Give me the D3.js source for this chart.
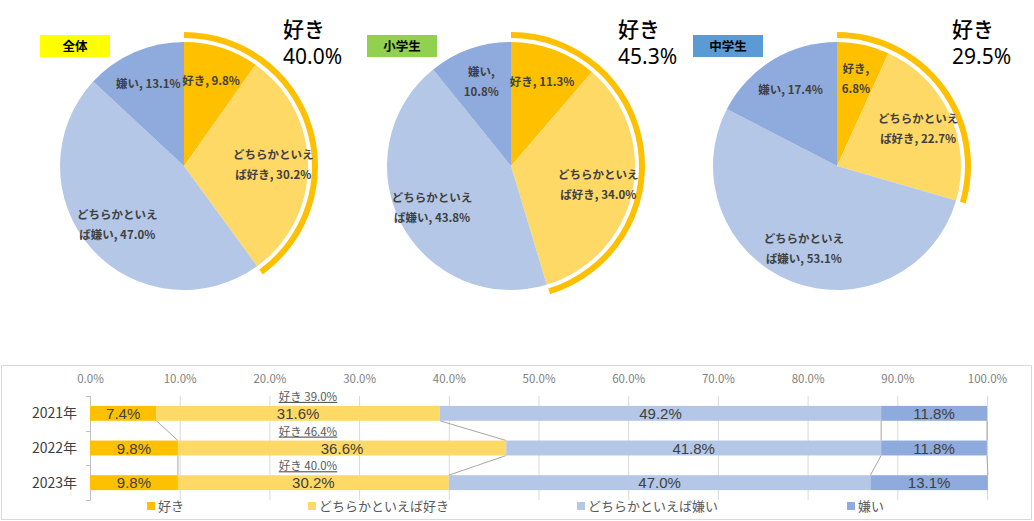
<!DOCTYPE html>
<html>
<head>
<meta charset="utf-8">
<script src="https://cdn.jsdelivr.net/npm/d3@7"></script>
<style>
  body { margin: 0; background: #fff; }
  text { font-family: "Noto Sans CJK JP", "Noto Sans", sans-serif; }
</style>
</head>
<body>
<div id="viz_area"></div>
<script>
var width = 1034
var height = 521

// --- data ---
var categories = ["好き", "どちらかといえば好き", "どちらかといえば嫌い", "嫌い"]
var cmap = ["#ffc000", "#ffd966", "#b4c7e7", "#8faadc"]

var pieTitles = ["全体", "小学生", "中学生"]
var pieTitleColors = ["#ffff00", "#92d050", "#5b9bd5"]
var pieAll = [9.8, 30.2, 47.0, 13.1]
var pieElem = [11.3, 34.0, 43.8, 10.8]
var pieJunior = [6.8, 22.7, 53.1, 17.4]
// short labels that wrap after the comma
var pieWrap = [[false, false, false, false], [false, false, false, true], [true, false, false, false]]

var years = ["2021年", "2022年", "2023年"]
var like = [7.4, 9.8, 9.8]
var ratherLike = [31.6, 36.6, 30.2]
var ratherDislike = [49.2, 41.8, 47.0]
var dislike = [11.8, 11.8, 13.1]
var xTicks = [0, 10, 20, 30, 40, 50, 60, 70, 80, 90, 100]

var svg = d3.select("#viz_area")
  .append("svg")
  .attr("width", width)
  .attr("height", height)
  .attr("viewBox", [0, 0, width, height])
  .style("background-color", "white");

// --- pies ---
var pies = [pieAll, pieElem, pieJunior]
var pieCx = [184, 511, 837]
var pieCy = 166
var R = 124

var pie = d3.pie().sort(null).value(d => d)
var arc = d3.arc().innerRadius(0).outerRadius(R)
var labelArc = d3.arc().innerRadius(R * 0.72).outerRadius(R * 0.72)

function labelLines(cat, v, wrap) {
  var val = v.toFixed(1) + "%"
  if (cat.length > 4) return [cat.slice(0, 7), cat.slice(7) + ", " + val]
  if (wrap) return [cat + ",", val]
  return [cat + ", " + val]
}

pies.forEach(function (vals, p) {
  var g = svg.append("g").attr("transform", `translate(${pieCx[p]},${pieCy})`)
  var arcs = pie(vals)

  g.selectAll("path.slice")
    .data(arcs)
    .enter().append("path")
    .attr("class", "slice")
    .attr("d", arc)
    .attr("fill", (d, i) => cmap[i])

  // outer band for total "like"
  var likeTotal = vals[0] + vals[1]
  g.append("path")
    .attr("d", d3.arc().innerRadius(R + 4).outerRadius(R + 10)
      .startAngle(0).endAngle(2 * Math.PI * likeTotal / 100)())
    .attr("fill", "#ffc000")

  arcs.forEach(function (d, i) {
    var c = labelArc.centroid(d)
    var lines = labelLines(categories[i], d.data, pieWrap[p][i])
    var t = g.append("text")
      .attr("text-anchor", "middle")
      .attr("fill", "#404040")
      .style("font-size", "11.5px")
      .style("font-weight", "bold")
    lines.forEach(function (l, j) {
      t.append("tspan")
        .attr("x", c[0])
        .attr("y", c[1] + (j - (lines.length - 1) / 2) * 20 + 4)
        .text(l)
    })
  })

  // title box
  svg.append("rect")
    .attr("x", pieCx[p] - 144)
    .attr("y", 35)
    .attr("width", 70)
    .attr("height", 22)
    .attr("fill", pieTitleColors[p])
  svg.append("text")
    .attr("x", pieCx[p] - 109)
    .attr("y", 50.5)
    .attr("text-anchor", "middle")
    .style("font-size", "12.5px")
    .style("font-weight", "bold")
    .attr("fill", "#000")
    .text(pieTitles[p])

  // big total
  var tx = pieCx[p] + 99 + p * 8
  svg.append("text")
    .attr("x", tx).attr("y", 37)
    .attr("fill", "#000")
    .style("font-size", "21px")
    .style("font-weight", "500")
    .text(categories[0])
  svg.append("text")
    .attr("x", tx).attr("y", 64)
    .attr("fill", "#000")
    .style("font-size", "21px")
    .style("font-family", "\"Noto Sans\", sans-serif")
    .text(likeTotal.toFixed(1) + "%")
})

// --- stacked bars ---
svg.append("rect")
  .attr("x", 1.5).attr("y", 365.5)
  .attr("width", 1030).attr("height", 154)
  .attr("fill", "none")
  .attr("stroke", "#d9d9d9")

var scX = d3.scaleLinear().domain([0, 100]).range([90, 987])
var scY = d3.scaleBand().domain(years).range([396, 500]).paddingInner(0.57).paddingOuter(0.285)
var bh = scY.bandwidth()

var rows = years.map((y, i) => ({ year: y, vals: [like[i], ratherLike[i], ratherDislike[i], dislike[i]] }))
rows.forEach(r => {
  var acc = 0
  r.cum = r.vals.map(v => (acc += v))
})

// grid
svg.append("g")
  .attr("stroke", "#d9d9d9")
  .selectAll("line")
  .data(xTicks.slice(1))
  .enter().append("line")
  .attr("x1", d => scX(d) + 0.5)
  .attr("x2", d => scX(d) + 0.5)
  .attr("y1", 396)
  .attr("y2", 500)

// x axis labels on top
svg.append("g")
  .attr("transform", "translate(0,383)")
  .call(d3.axisTop(scX).tickValues(xTicks).tickFormat(d => d.toFixed(1) + "%").tickSize(0).tickPadding(0))
  .call(g => g.select(".domain").remove())
  .selectAll("text")
  .attr("fill", "#808080")
  .style("font-size", "11.5px")
  .style("font-family", "\"Noto Sans CJK JP\", sans-serif")

// category axis
var yAx = svg.append("g").attr("stroke", "#bfbfbf")
yAx.append("line").attr("x1", 90.5).attr("x2", 90.5).attr("y1", 396).attr("y2", 500)
yAx.selectAll("line.tk")
  .data([396, 396 + scY.step(), 396 + 2 * scY.step(), 500])
  .enter().append("line")
  .attr("class", "tk")
  .attr("x1", 86).attr("x2", 90.5)
  .attr("y1", d => Math.round(d) + 0.5).attr("y2", d => Math.round(d) + 0.5)

svg.append("g")
  .selectAll("text")
  .data(years)
  .enter().append("text")
  .attr("x", 77)
  .attr("y", d => scY(d) + bh / 2 + 5)
  .attr("text-anchor", "end")
  .attr("fill", "#404040")
  .style("font-size", "14px")
  .text(d => d)

// connector lines between bars
var conn = []
for (let k = 0; k < 4; k++) {
  for (let i = 0; i < rows.length - 1; i++) {
    conn.push({ a: rows[i], b: rows[i + 1], k: k })
  }
}
svg.append("g")
  .attr("stroke", "#a6a6a6")
  .attr("stroke-width", 1)
  .selectAll("line")
  .data(conn)
  .enter().append("line")
  .attr("x1", d => scX(d.a.cum[d.k]))
  .attr("y1", d => scY(d.a.year) + bh)
  .attr("x2", d => scX(d.b.cum[d.k]))
  .attr("y2", d => scY(d.b.year))

// segments
rows.forEach(function (r) {
  var g = svg.append("g")
  g.selectAll("rect")
    .data(r.vals)
    .enter().append("rect")
    .attr("x", (d, i) => scX(r.cum[i] - d))
    .attr("y", scY(r.year))
    .attr("width", (d, i) => scX(r.cum[i]) - scX(r.cum[i] - d))
    .attr("height", bh)
    .attr("fill", (d, i) => cmap[i])
  g.selectAll("text")
    .data(r.vals)
    .enter().append("text")
    .attr("x", (d, i) => scX(r.cum[i] - d / 2))
    .attr("y", scY(r.year) + bh / 2 + 5.5)
    .attr("text-anchor", "middle")
    .attr("fill", "#404040")
    .style("font-size", "15px")
    .style("font-family", "\"Liberation Sans\", sans-serif")
    .text(d => d.toFixed(1) + "%")

  // total like annotation
  svg.append("text")
    .attr("x", scX(24.3))
    .attr("y", scY(r.year) - 5)
    .attr("text-anchor", "middle")
    .attr("fill", "#595959")
    .style("font-size", "11.5px")
    .style("text-decoration", "underline")
    .text(categories[0] + " " + (r.vals[0] + r.vals[1]).toFixed(1) + "%")
})

// legend
var legendX = [147, 308, 577, 847]
var lg = svg.append("g")
categories.forEach(function (c, i) {
  lg.append("rect")
    .attr("x", legendX[i]).attr("y", 502)
    .attr("width", 8).attr("height", 8)
    .attr("fill", cmap[i])
  lg.append("text")
    .attr("x", legendX[i] + 11).attr("y", 511)
    .attr("fill", "#595959")
    .style("font-size", "13px")
    .text(c)
})
</script>
</body>
</html>
